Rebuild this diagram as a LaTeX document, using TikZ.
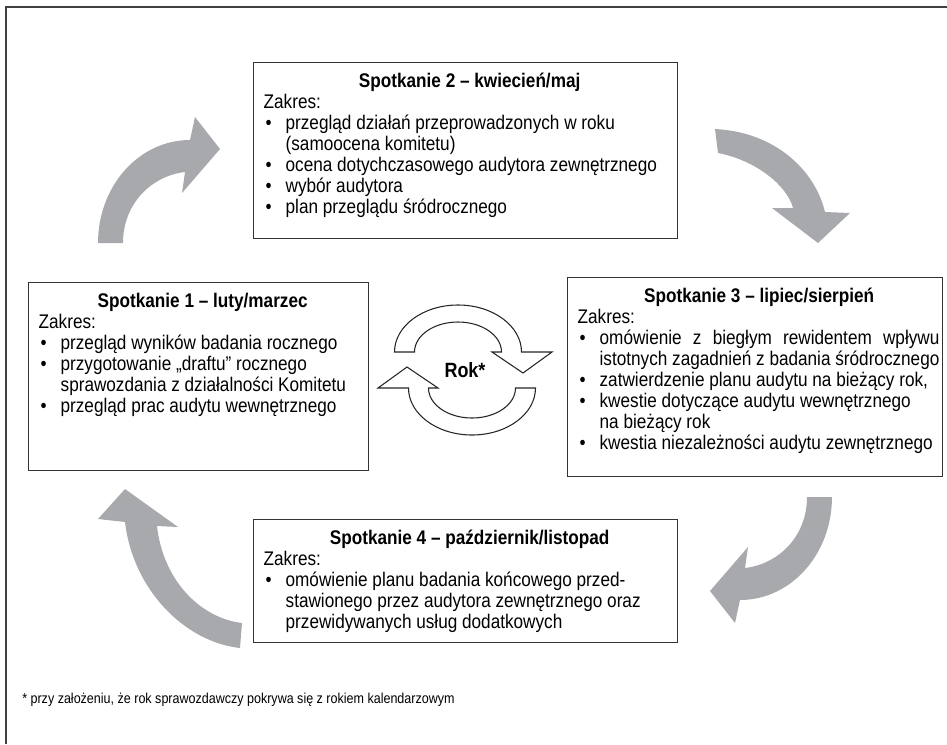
\documentclass[tikz,border=0pt]{standalone}
\usepackage{fontspec}
\setmainfont{Liberation Sans}[FakeStretch=0.87]
\definecolor{arrowgray}{HTML}{A7A9AC}
\definecolor{linegray}{HTML}{333333}
\newlength\linelen
\newcommand\bodyfont{\fontsize{14.8pt}{15.75pt}\selectfont}
% #1 text width, #2 box height, #3 content (top aligned)
\newcommand\boxtext[3]{\parbox[c][#2][t]{#1}{\bodyfont\raggedright\vspace*{6.5pt}#3}}
\newcommand\boxtitle[1]{{\centering\bfseries\rule{0pt}{12pt}#1\par}}
\newcommand\itm[1]{\par\hangindent=16.5pt\hangafter=1\noindent\makebox[16.5pt][l]{\hspace{1.5pt}\textbullet}#1}
\newcommand\nl{\break}
\begin{document}
\begin{tikzpicture}[x=0.75pt,y=-0.75pt,
  box/.style={draw=linegray, line width=1pt, inner sep=0pt, anchor=north west, fill=white},
  grayarrow/.style={fill=arrowgray},
  cyclearrow/.style={draw=black!85, line width=0.8pt, fill=white, line join=miter},
  rok/.style={font=\fontsize{15.5pt}{18pt}\selectfont\bfseries, inner sep=0pt},
  note/.style={font=\fontsize{10.8pt}{13pt}\selectfont, anchor=west, inner sep=0pt},
  frame/.style={draw=black!75, line width=1pt}]
\useasboundingbox (0,0) rectangle (947,744);

% outer frame (open towards right and bottom)
\draw[frame] (6,744) -- (6,7) -- (947,7);

% meetings
\node[box] (b2) at (253,62) {\hspace*{7.5pt}\boxtext{309pt}{132pt}{%
  \boxtitle{Spotkanie 2 – kwiecień/maj}
  Zakres:
  \itm{\mbox{przegląd działań przeprowadzonych w roku}\nl\mbox{(samoocena komitetu)}}
  \itm{\mbox{ocena dotychczasowego audytora zewnętrznego}}
  \itm{\mbox{wybór audytora}}
  \itm{\mbox{plan przeglądu śródrocznego}}\par}\hspace*{1.5pt}};

\node[box] (b1) at (28,282) {\hspace*{7.5pt}\boxtext{246pt}{141pt}{%
  \boxtitle{Spotkanie 1 – luty/marzec}
  Zakres:
  \itm{\mbox{przegląd wyników badania rocznego}}
  \itm{\mbox{przygotowanie „draftu” rocznego}\nl\mbox{sprawozdania z działalności Komitetu}}
  \itm{\mbox{przegląd prac audytu wewnętrznego}}\par}\hspace*{1.5pt}};

\node[box] (b3) at (567,277) {\hspace*{7.5pt}\boxtext{272.25pt}{149.25pt}{%
  \boxtitle{Spotkanie 3 – lipiec/sierpień}
  Zakres:
  \itm{\settowidth\linelen{istotnych zagadnień z badania śródrocznego}%
    \makebox[\linelen][s]{omówienie z biegłym rewidentem wpływu}\nl\mbox{istotnych zagadnień z badania śródrocznego}}
  \itm{\mbox{zatwierdzenie planu audytu na bieżący rok,}}
  \itm{\mbox{kwestie dotyczące audytu wewnętrznego}\nl\mbox{na bieżący rok}}
  \itm{\mbox{kwestia niezależności audytu zewnętrznego}}\par}\hspace*{1.5pt}};

\node[box] (b4) at (253,519) {\hspace*{7.5pt}\boxtext{309pt}{92.25pt}{%
  \boxtitle{Spotkanie 4 – październik/listopad}
  Zakres:
  \itm{\mbox{omówienie planu badania końcowego przed-}\nl\mbox{stawionego przez audytora zewnętrznego oraz}\nl\mbox{przewidywanych usług dodatkowych}}\par}\hspace*{1.5pt}};

% wide grey arrows between the meetings
\fill[grayarrow] (98,243) .. controls (98,186) and (139,140) .. (190,140)
  -- (195,117) -- (220,149) -- (182,193) -- (185,172)
  .. controls (151,176) and (123,204) .. (123,243) -- cycle;
\fill[grayarrow] (715,129) .. controls (775,132) and (815,170) .. (825,212)
  -- (850,213) -- (818,243) -- (772,208) -- (793,208)
  .. controls (787,185) and (755,160) .. (718,153) -- cycle;
\begin{scope}[rotate around={180:(465,370)}]
\fill[grayarrow] (98,243) .. controls (98,186) and (139,140) .. (190,140)
  -- (195,117) -- (220,149) -- (182,193) -- (185,172)
  .. controls (151,176) and (123,204) .. (123,243) -- cycle;
\end{scope}
\fill[grayarrow] (125,522) .. controls (133,590) and (185,642) .. (240,648)
  -- (242,623) .. controls (200,618) and (163,580) .. (157,526)
  -- (178,527) -- (125,489) -- (98,519) -- cycle;

% yearly cycle in the middle
\draw[cyclearrow] (394.5,352) arc[start angle=180, end angle=360, x radius=63.5, y radius=47]
  -- (552,352) -- (523,373) -- (492,352) -- (501.5,352)
  arc[start angle=0, end angle=-180, x radius=43.5, y radius=30] -- cycle;
\begin{scope}[rotate around={180:(465,370)}]
\draw[cyclearrow] (394.5,352) arc[start angle=180, end angle=360, x radius=63.5, y radius=47]
  -- (552,352) -- (523,373) -- (492,352) -- (501.5,352)
  arc[start angle=0, end angle=-180, x radius=43.5, y radius=30] -- cycle;
\end{scope}
\node[rok] (rok) at (465,370) {Rok*};

% footnote
\node[note] (fn) at (22,700) {* przy założeniu, że rok sprawozdawczy pokrywa się z rokiem kalendarzowym};
\end{tikzpicture}
\end{document}
